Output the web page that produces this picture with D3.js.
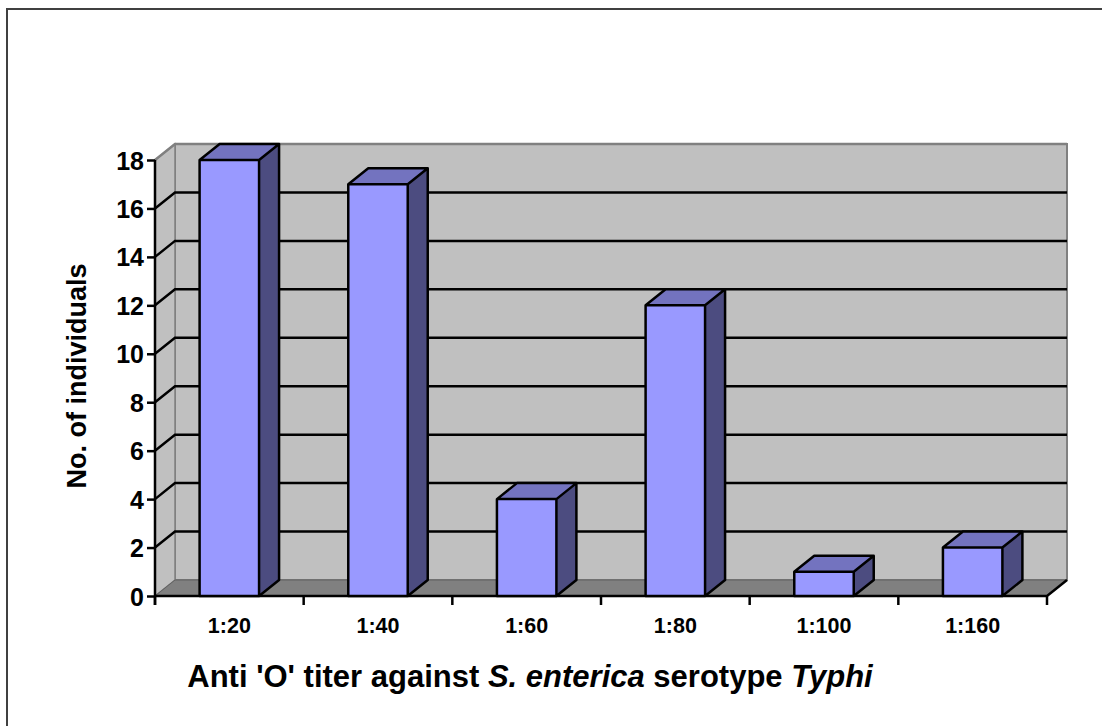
<!DOCTYPE html>
<html>
<head>
<meta charset="utf-8">
<script src="https://cdn.jsdelivr.net/npm/d3@7"></script>
<style>
  body { margin: 0; background: #fff; }
  svg { display: block; font-family: Arial, "Liberation Sans", sans-serif; font-weight: bold; }
</style>
</head>
<body>
<svg id="chart" width="1102" height="726"></svg>
<script>
var categories = ['1:20', '1:40', '1:60', '1:80', '1:100', '1:160'];
var counts = [18, 17, 4, 12, 1, 2];
var yTicks = [0, 2, 4, 6, 8, 10, 12, 14, 16, 18];

var svg = d3.select('#chart');
var dx = 20, dy = -16;   // depth of the 3d box

var x = d3.scaleBand().domain(categories).range([155, 1047]);
var y = d3.scaleLinear().domain([0, 18]).range([596, 160]);
var barW = x.bandwidth() * 0.4;

function pts(a) { return a.map(function(p) { return p.join(','); }).join(' '); }

// chart frame (only top and left show)
svg.append('path')
    .attr('d', 'M7,726 V9 H1102')
    .attr('fill', 'none').attr('stroke', '#404040').attr('stroke-width', 2);

var x0 = x.range()[0], x1 = x.range()[1];
var yb = y(0), yt = y(18);

// back wall
svg.append('rect')
    .attr('x', x0 + dx).attr('y', yt + dy)
    .attr('width', x1 - x0).attr('height', yb - yt)
    .attr('fill', '#c0c0c0').attr('stroke', '#808080').attr('stroke-width', 2);
// left wall
svg.append('polygon')
    .attr('points', pts([[x0, yb], [x0, yt], [x0 + dx, yt + dy], [x0 + dx, yb + dy]]))
    .attr('fill', '#c0c0c0').attr('stroke', '#808080').attr('stroke-width', 1.5);

// gridlines
yTicks.filter(function(v) { return v > 0; }).forEach(function(v) {
    var c = v === 18 ? '#808080' : '#000';
    svg.append('path')
        .attr('d', 'M' + x0 + ',' + y(v) + ' L' + (x0 + dx) + ',' + (y(v) + dy) + ' H' + (x1 + dx))
        .attr('fill', 'none').attr('stroke', c).attr('stroke-width', 2.5);
});

// floor
svg.append('polygon')
    .attr('points', pts([[x0, yb], [x0 + dx, yb + dy], [x1 + dx, yb + dy], [x1, yb]]))
    .attr('fill', '#808080').attr('stroke', '#606060').attr('stroke-width', 1);
svg.append('path')
    .attr('d', 'M' + x0 + ',' + yb + ' H' + x1 + ' L' + (x1 + dx) + ',' + (yb + dy))
    .attr('fill', 'none').attr('stroke', '#000').attr('stroke-width', 2.5);

// bars
var bars = svg.append('g').selectAll('g')
    .data(categories.map(function(c, i) { return {cat: c, v: counts[i]}; }))
    .join('g');
bars.each(function(d) {
    var g = d3.select(this);
    var l = x(d.cat) + (x.bandwidth() - barW) / 2, r = l + barW;
    var t = y(d.v);
    g.append('polygon')
        .attr('points', pts([[r, yb], [r, t], [r + dx, t + dy], [r + dx, yb + dy]]))
        .attr('fill', '#4c4c80');
    g.append('polygon')
        .attr('points', pts([[l, t], [l + dx, t + dy], [r + dx, t + dy], [r, t]]))
        .attr('fill', '#7373bf');
    g.append('rect')
        .attr('x', l).attr('y', t).attr('width', barW).attr('height', yb - t)
        .attr('fill', '#9999ff');
    g.append('path')
        .attr('d', 'M' + l + ',' + yb + ' V' + t + ' L' + (l + dx) + ',' + (t + dy) +
              ' H' + (r + dx) + ' V' + (yb + dy) + ' L' + r + ',' + yb + ' Z' +
              ' M' + l + ',' + t + ' H' + r + ' V' + yb +
              ' M' + r + ',' + t + ' L' + (r + dx) + ',' + (t + dy))
        .attr('fill', 'none').attr('stroke', '#000').attr('stroke-width', 2.5)
        .attr('stroke-linejoin', 'round');
});

// y axis
var yAxis = svg.append('g')
    .attr('transform', 'translate(' + x0 + ',0)')
    .call(d3.axisLeft(y).tickValues(yTicks).tickSize(8).tickPadding(3).tickFormat(d3.format('d')));
yAxis.select('.domain').attr('stroke', '#000').attr('stroke-width', 2.5).attr('d', 'M0,' + yt + 'V' + (yb + 9));
yAxis.selectAll('.tick line').attr('stroke-width', 2.5);
yAxis.selectAll('.tick text')
    .attr('font-size', 25).attr('font-weight', 'bold').attr('fill', '#000')
    .attr('font-family', 'Arial, "Liberation Sans", sans-serif').attr('dy', '0.36em');

// x axis
var xAxis = svg.append('g')
    .attr('transform', 'translate(0,' + yb + ')')
    .call(d3.axisBottom(x).tickSize(0).tickPadding(22));
xAxis.select('.domain').remove();
xAxis.selectAll('.tick text')
    .attr('font-size', 21.5).attr('font-weight', 'bold').attr('fill', '#000')
    .attr('font-family', 'Arial, "Liberation Sans", sans-serif');
// ticks at the category boundaries
svg.append('g').selectAll('line')
    .data(categories.map(function(c) { return x(c); }).concat([x1]))
    .join('line')
    .attr('x1', function(d) { return d; }).attr('x2', function(d) { return d; })
    .attr('y1', yb).attr('y2', yb + 9)
    .attr('stroke', '#000').attr('stroke-width', 2.5);

// axis titles
svg.append('text')
    .attr('transform', 'translate(86,376) rotate(-90)')
    .attr('text-anchor', 'middle').attr('font-size', 27)
    .text('No. of individuals');

var title = svg.append('text')
    .attr('x', 530).attr('y', 687)
    .attr('text-anchor', 'middle').attr('font-size', 31);
title.append('tspan').text("Anti 'O' titer against ");
title.append('tspan').attr('font-style', 'italic').text('S. enterica');
title.append('tspan').text(' serotype ');
title.append('tspan').attr('font-style', 'italic').text('Typhi');
</script>
</body>
</html>
